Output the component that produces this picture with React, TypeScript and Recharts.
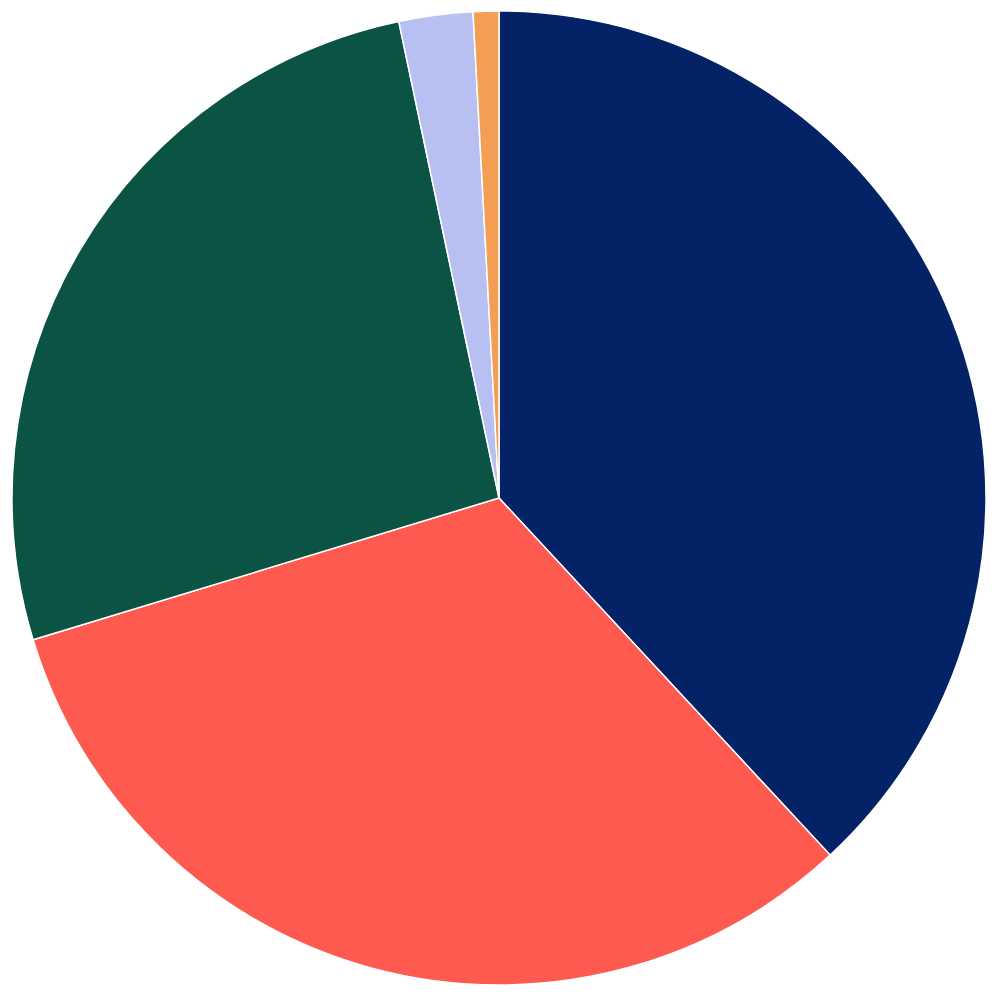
import React from 'react';
import { PieChart, Pie, Cell } from 'recharts';

const categories = ['A', 'B', 'C', 'D', 'E'];
const values = [38.1, 32.2, 26.4, 2.45, 0.85];
const colors = ['#042366', '#FF5A4F', '#0A5345', '#B8BFF1', '#F49E55'];

const data = categories.map((name, i) => ({ name, value: values[i] }));

export default function App() {
  return (
    <div style={{ position: 'absolute', left: 0, top: 0, width: 1000, height: 1000, background: '#fff' }}>
      <PieChart width={1000} height={1000} margin={{ top: 0, right: 0, bottom: 0, left: 0 }}>
        <Pie
          data={data}
          dataKey="value"
          cx={499}
          cy={498}
          outerRadius={487}
          startAngle={90}
          endAngle={-270}
          stroke="#ffffff"
          strokeWidth={1.5}
          isAnimationActive={false}
        >
          {data.map((entry, index) => (
            <Cell key={`cell-${index}`} fill={colors[index]} />
          ))}
        </Pie>
      </PieChart>
    </div>
  );
}
